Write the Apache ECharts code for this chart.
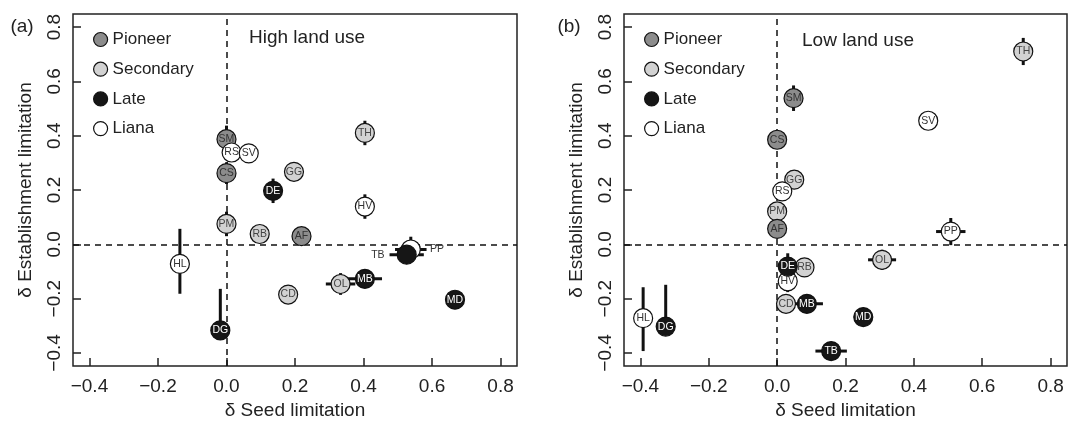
<!DOCTYPE html>
<html lang="en">
<head>
<meta charset="UTF-8">
<title>Seed vs establishment limitation</title>
<script src="https://cdn.jsdelivr.net/npm/echarts@6/dist/echarts.min.js"></script>
<style>
  html, body { margin: 0; background: #fff; }
  #chart { width: 1068px; height: 427px; }
</style>
</head>
<body>
<div id="chart"></div>
<script>
var groups = ['Pioneer', 'Secondary', 'Late', 'Liana'];
var ticks = [-0.4, -0.2, 0, 0.2, 0.4, 0.6, 0.8];
var n = null;

// (a) high land use
var codesA = ['SM', 'RS', 'SV', 'CS', 'GG', 'DE', 'TH', 'HV', 'PM', 'RB', 'AF', 'HL', 'DG', 'CD', 'OL', 'MB', 'MD', 'TB', 'PP'];
var groupA = ['Pioneer', 'Liana', 'Liana', 'Pioneer', 'Secondary', 'Late', 'Secondary', 'Liana', 'Secondary', 'Secondary',
              'Pioneer', 'Liana', 'Late', 'Secondary', 'Secondary', 'Late', 'Late', 'Late', 'Liana'];
var seedA = [0.0, 0.015, 0.065, 0.0, 0.197, 0.136, 0.404, 0.404, 0.0, 0.097, 0.219, -0.136, -0.018, 0.18, 0.333, 0.404, 0.667, 0.526, 0.538];
var estA = [0.387, 0.338, 0.335, 0.262, 0.267, 0.197, 0.41, 0.139, 0.075, 0.038, 0.03, -0.072, -0.317, -0.185, -0.146, -0.127, -0.204, -0.038, -0.019];
var seedLoA = [n, n, n, n, n, n, n, n, n, n, n, n, n, n, 0.29, 0.354, n, 0.476, 0.492];
var seedHiA = [n, n, n, n, n, n, n, n, n, n, n, n, n, n, 0.376, 0.454, n, 0.576, 0.584];
var estLoA = [0.337, n, n, 0.222, n, 0.152, 0.365, 0.094, 0.03, n, n, -0.182, -0.317, n, -0.186, n, n, n, -0.066];
var estHiA = [0.437, n, n, 0.302, n, 0.242, 0.455, 0.184, 0.12, n, n, 0.057, -0.164, n, -0.106, n, n, n, 0.028];

// (b) low land use
var codesB = ['SM', 'CS', 'GG', 'RS', 'PM', 'AF', 'DE', 'RB', 'HV', 'CD', 'MB', 'OL', 'MD', 'TB', 'HL', 'DG', 'TH', 'SV', 'PP'];
var groupB = ['Pioneer', 'Pioneer', 'Secondary', 'Liana', 'Secondary', 'Pioneer', 'Late', 'Secondary', 'Liana', 'Secondary',
              'Late', 'Secondary', 'Late', 'Late', 'Liana', 'Late', 'Secondary', 'Liana', 'Liana'];
var seedB = [0.048, 0.0, 0.05, 0.015, 0.0, 0.0, 0.031, 0.08, 0.031, 0.026, 0.087, 0.307, 0.252, 0.158, -0.392, -0.326, 0.72, 0.442, 0.508];
var estB = [0.538, 0.385, 0.238, 0.195, 0.121, 0.057, -0.082, -0.085, -0.136, -0.219, -0.219, -0.057, -0.268, -0.393, -0.272, -0.303, 0.71, 0.455, 0.047];
var seedLoB = [n, n, n, n, n, n, n, n, n, n, 0.04, 0.266, n, 0.112, n, n, n, n, 0.465];
var seedHiB = [n, n, n, n, n, n, n, n, n, n, 0.134, 0.348, n, 0.204, n, n, n, n, 0.551];
var estLoB = [0.491, n, n, n, n, n, -0.131, n, -0.176, n, n, -0.094, n, n, -0.393, -0.32, 0.66, n, -0.003];
var estHiB = [0.585, n, n, n, n, n, -0.033, n, -0.096, n, n, -0.02, n, n, -0.158, -0.149, 0.76, n, 0.097];

var FONT = '"Liberation Sans", Arial, Helvetica, sans-serif';
var fill = {Pioneer: '#8c8c8c', Secondary: '#d2d2d2', Late: '#161616', Liana: '#ffffff'};
var ink = {Pioneer: '#333', Secondary: '#444', Late: '#fff', Liana: '#333'};
var zOf = {Secondary: 3, Pioneer: 4, Liana: 5, Late: 6};
var drawOrder = ['Secondary', 'Pioneer', 'Liana', 'Late'];

function fmt(v) {
    var s = Math.abs(v).toFixed(1);
    return v < -1e-9 ? '\u2212' + s : s;
}

function panelSeries(idx, codes, grp, seed, est, sLo, sHi, eLo, eHi, outside) {
    var out = [];
    var segs = [];
    for (var i = 0; i < codes.length; i++) {
        if (sLo[i] != null) segs.push([sLo[i], est[i], sHi[i], est[i]]);
        if (eLo[i] != null) segs.push([seed[i], eLo[i], seed[i], eHi[i]]);
    }
    out.push({
        type: 'custom', xAxisIndex: idx, yAxisIndex: idx, z: 2, silent: true,
        data: segs,
        encode: {x: [0, 2], y: [1, 3]},
        renderItem: function (params, api) {
            var a = api.coord([api.value(0), api.value(1)]);
            var b = api.coord([api.value(2), api.value(3)]);
            return {type: 'line', shape: {x1: a[0], y1: a[1], x2: b[0], y2: b[1]},
                    style: {stroke: '#111', lineWidth: 3}};
        }
    });
    // reference lines at zero
    out.push({
        type: 'line', xAxisIndex: idx, yAxisIndex: idx, z: 1, data: [], silent: true,
        markLine: {
            z: 1, silent: true, symbol: ['none', 'none'], label: {show: false}, animation: false,
            lineStyle: {color: '#111', type: [6, 5], width: 1.5},
            data: [{xAxis: 0}, {yAxis: 0}]
        }
    });
    drawOrder.forEach(function (g) {
        var data = [];
        for (var i = 0; i < codes.length; i++) {
            if (grp[i] !== g) continue;
            var item = {name: codes[i], value: [seed[i], est[i]]};
            if (outside[codes[i]]) {
                item.label = {position: outside[codes[i]].side, distance: outside[codes[i]].dist, color: '#333'};
            }
            data.push(item);
        }
        out.push({
            name: g, type: 'scatter', xAxisIndex: idx, yAxisIndex: idx, z: zOf[g],
            symbol: 'circle', symbolSize: 19,
            itemStyle: {color: fill[g], borderColor: '#111', borderWidth: 1.2, opacity: 1},
            label: {show: true, position: 'inside', formatter: '{b}', fontSize: 10.5, color: ink[g], fontFamily: FONT},
            emphasis: {disabled: true},
            data: data
        });
    });
    return out;
}

function xAxisCfg(idx) {
    return {
        type: 'value', gridIndex: idx, min: -0.448, max: 0.848,
        splitLine: {show: false},
        axisLine: {show: false, onZero: false},
        axisTick: {show: true, inside: true, length: 8, customValues: ticks, lineStyle: {color: '#222', width: 1.5}},
        axisLabel: {customValues: ticks, formatter: fmt, fontSize: 19, color: '#222', margin: 11, fontFamily: FONT},
        name: '\u03b4 Seed limitation', nameLocation: 'middle', nameGap: 33,
        nameTextStyle: {fontSize: 19, color: '#222', fontFamily: FONT}
    };
}
function yAxisCfg(idx) {
    return {
        type: 'value', gridIndex: idx, min: -0.448, max: 0.848,
        splitLine: {show: false},
        axisLine: {show: false, onZero: false},
        axisTick: {show: true, inside: true, length: 8, customValues: ticks, lineStyle: {color: '#222', width: 1.5}},
        axisLabel: {customValues: ticks, formatter: fmt, fontSize: 19, color: '#222', margin: 9, rotate: 90, fontFamily: FONT},
        name: '\u03b4 Establishment limitation', nameLocation: 'middle', nameGap: 38,
        nameTextStyle: {fontSize: 19, color: '#222', fontFamily: FONT}
    };
}
function legendCfg(left) {
    return {
        orient: 'vertical', left: left, top: 26, itemWidth: 14, itemHeight: 14, itemGap: 12.7,
        icon: 'circle', data: groups, selectedMode: false,
        itemStyle: {borderColor: '#111', borderWidth: 1.2},
        textStyle: {fontSize: 17, lineHeight: 14, color: '#222', fontFamily: FONT}
    };
}
function txt(x, y, s, align) {
    return {type: 'text', x: x, y: y, silent: true,
            style: {text: s, font: '19px ' + FONT, fill: '#222', align: align, verticalAlign: 'middle'}};
}

var chart = echarts.init(document.getElementById('chart'));
chart.setOption({
    animation: false,
    textStyle: {fontFamily: FONT},
    grid: [
        {left: 73, top: 14, width: 444, height: 352, show: true, borderColor: '#222', borderWidth: 1.5},
        {left: 624, top: 14, width: 443, height: 352, show: true, borderColor: '#222', borderWidth: 1.5}
    ],
    xAxis: [xAxisCfg(0), xAxisCfg(1)],
    yAxis: [yAxisCfg(0), yAxisCfg(1)],
    legend: [legendCfg(88), legendCfg(639)],
    graphic: [
        txt(22, 27, '(a)', 'center'),
        txt(569, 27, '(b)', 'center'),
        txt(249, 38, 'High land use', 'left'),
        txt(802, 41, 'Low land use', 'left')
    ],
    series: [].concat(
        panelSeries(0, codesA, groupA, seedA, estA, seedLoA, seedHiA, estLoA, estHiA,
                    {TB: {side: 'left', dist: 12}, PP: {side: 'right', dist: 9}}),
        panelSeries(1, codesB, groupB, seedB, estB, seedLoB, seedHiB, estLoB, estHiB, {})
    )
});
</script>
</body>
</html>
